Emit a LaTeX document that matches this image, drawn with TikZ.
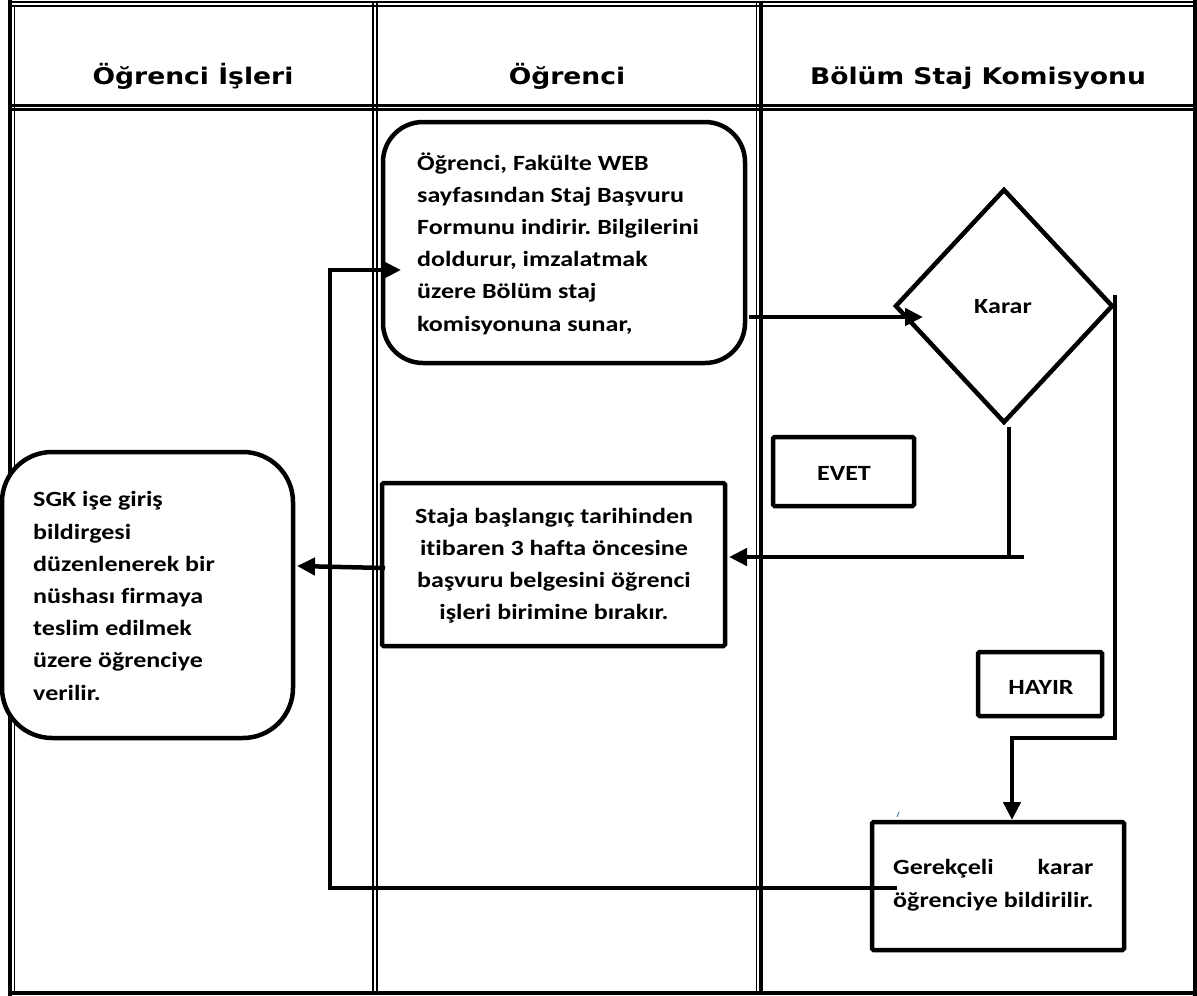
\documentclass[tikz,border=0pt]{standalone}
\usepackage{fontspec}
\usepackage{calc}
\usetikzlibrary{shapes.geometric,arrows.meta}
\newfontfamily\hdfont{DejaVu Sans}[FakeStretch=1.16]
\newfontfamily\bodyfont{Carlito}[FakeStretch=1.2, Ligatures=NoCommon]
\definecolor{tickblue}{HTML}{4F81BD}
\frenchspacing
\tikzset{
  boxline/.style={draw=black, line width=4.5pt, fill=white, inner sep=0pt},
  sqbox/.style={boxline, rectangle, rounded corners=1.5pt},
  rbox/.style={boxline, rectangle, rounded corners=#1},
  conn/.style={line width=4.5pt, line join=miter},
  tipend/.style={-{Triangle[length=18pt,width=17pt]}},
  bodytxt/.style={font=\bodyfont\bfseries\fontsize{21.7}{32.2}\selectfont\frenchspacing, inner sep=0pt},
  hdtxt/.style={font=\hdfont\bfseries\fontsize{22.9}{28}\selectfont, inner sep=0pt},
}
\begin{document}
\begin{tikzpicture}[x=1pt,y=-1pt]
\useasboundingbox (0,0) rectangle (1197,996);
% ---- table frame ----
\draw[line width=2pt] (8,2) -- (1197,2);
\draw[line width=1.3pt] (12,6) -- (1195,6);
\draw[line width=4pt] (10,0) -- (10,996);
\draw[line width=1.3pt] (14.5,6) -- (14.5,993);
\draw[line width=3.5pt] (1195,0) -- (1195,996);
\draw[line width=4pt] (8,993) -- (1197,993);
\draw[line width=2.2pt] (10,105.5) -- (1195,105.5);
\draw[line width=2.5pt] (10,109.5) -- (1195,109.5);
\draw[line width=1.6pt] (373,2) -- (373,993);
\draw[line width=2.4pt] (377,2) -- (377,993);
\draw[line width=1.6pt] (756.5,2) -- (756.5,993);
\draw[line width=3.5pt] (761,2) -- (761,993);
% ---- headers ----
\node[hdtxt, anchor=base] (h1) at (193,84) {Öğrenci İşleri};
\node[hdtxt, anchor=base] (h2) at (567,84) {Öğrenci};
\node[hdtxt, anchor=base] (h3) at (978,84) {Bölüm Staj Komisyonu};
% ---- shapes ----
\node[rbox=40pt, minimum width=362pt, minimum height=241pt] (ogr) at (564,242.5) {};
\node[boxline, diamond, minimum width=218pt, minimum height=234pt] (karar) at (1004,306) {};
\node[sqbox, minimum width=343pt, minimum height=163pt] (staja) at (553.5,564.5) {};
\node[rbox=50pt, minimum width=291pt, minimum height=286pt] (sgk) at (147.5,595) {};
\node[sqbox, minimum width=141pt, minimum height=69pt] (evet) at (843.5,471.5) {};
\node[sqbox, minimum width=124pt, minimum height=64pt] (hayir) at (1040,684) {};
\node[sqbox, minimum width=252pt, minimum height=128pt] (gerek) at (998,886) {};
% ---- texts (base anchor = baseline of the last line) ----
\node[bodytxt, anchor=base west, align=left] (ogrtxt) at (417,331)
  {Öğrenci, Fakülte WEB\\sayfasından Staj Başvuru\\Formunu indirir. Bilgilerini\\doldurur, imzalatmak\\üzere Bölüm staj\\komisyonuna sunar,};
\node[bodytxt, anchor=base] (karartxt) at (1003,313) {Karar};
\node[bodytxt, anchor=base, align=center] (statxt) at (554,619.6)
  {Staja başlangıç tarihinden\\itibaren 3 hafta öncesine\\başvuru belgesini öğrenci\\işleri birimine bırakır.};
\node[bodytxt, anchor=base west, align=left] (sgktxt) at (33,700)
  {SGK işe giriş\\bildirgesi\\düzenlenerek bir\\nüshası firmaya\\teslim edilmek\\üzere öğrenciye\\verilir.};
\node[bodytxt, anchor=base] (evettxt) at (844,480) {EVET};
\node[bodytxt, anchor=base] (hayirtxt) at (1041,694) {HAYIR};
\node[bodytxt, anchor=base west, align=left] (gerektxt) at (893,907)
  {\makebox[\widthof{öğrenciye bildirilir.}][s]{Gerekçeli\hfill karar}\\öğrenciye bildirilir.};
% ---- connectors ----
\coordinate (r1) at (897,888);
\coordinate (r2) at (330,888);
\coordinate (r3) at (330,270);
\coordinate (r4) at (401,270);
\draw[conn, tipend] (r1) -- (r2) -- (r3) -- (r4);
\coordinate (a1) at (749,317);
\coordinate (a2) at (923,317);
\draw[conn, tipend] (a1) -- (a2);
\coordinate (d1) at (1009,427);
\coordinate (d2) at (1009,557);
\draw[conn] (d1) -- (d2);
\coordinate (e1) at (1024,557);
\coordinate (e2) at (729,557);
\draw[conn, tipend] (e1) -- (e2);
\coordinate (s1) at (385,568);
\coordinate (s2) at (297,566);
\draw[conn, tipend] (s1) -- (s2);
\coordinate (n1) at (1115,295);
\coordinate (n2) at (1115,738);
\coordinate (n3) at (1012,738);
\coordinate (n4) at (1012,820);
\draw[conn, tipend] (n1) -- (n2) -- (n3) -- (n4);
\draw[tickblue, line width=1pt] (897,817) -- (899,812);
\end{tikzpicture}
\end{document}
